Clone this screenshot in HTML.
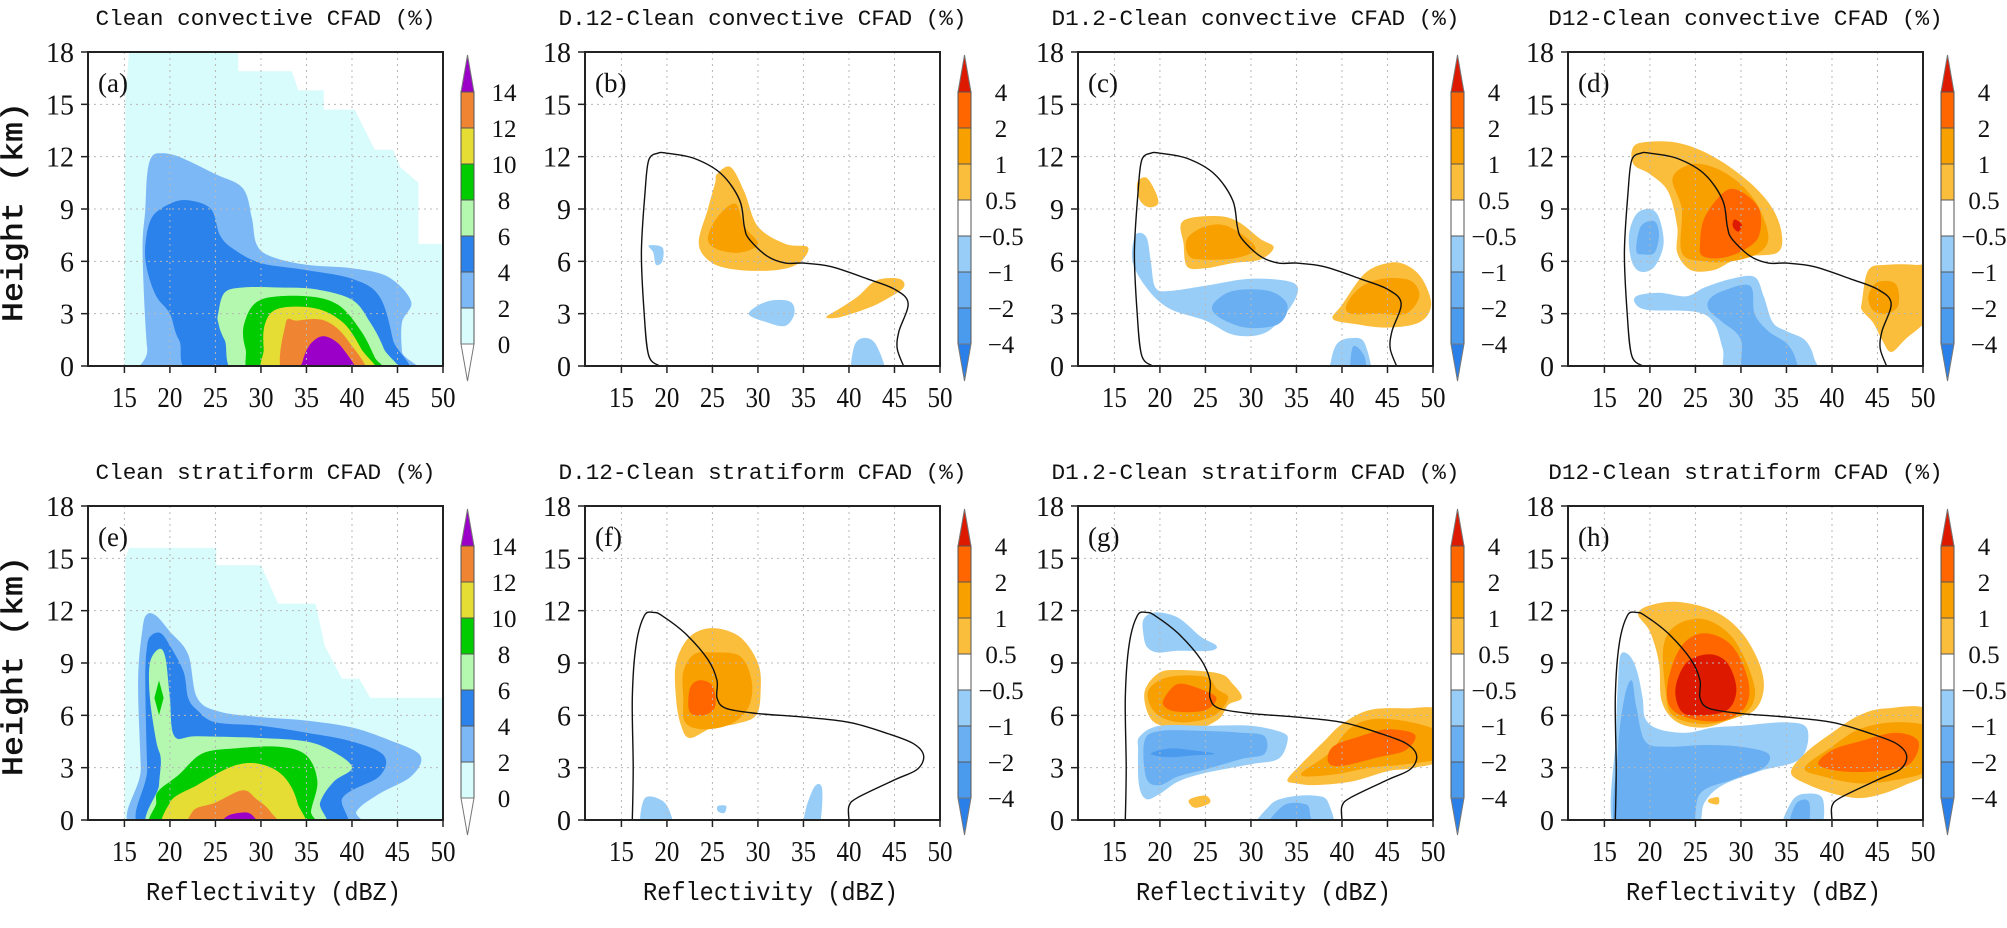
<!DOCTYPE html>
<html><head><meta charset="utf-8"><style>
html,body{margin:0;padding:0;background:#fff;}
svg{display:block;}
</style></head><body>
<svg id="fig" width="2007" height="928" viewBox="0 0 2007 928" xmlns="http://www.w3.org/2000/svg"></svg>
<script>
// ---------- axis data ----------
const xTicks = [15, 20, 25, 30, 35, 40, 45, 50];
const yTicks = [0, 3, 6, 9, 12, 15, 18];
const xDomain = [11, 50];
const yDomain = [0, 18];
const absLevels = ["14", "12", "10", "8", "6", "4", "2", "0"];
const diffLevels = ["4", "2", "1", "0.5", "-0.5", "-1", "-2", "-4"];
const absColors = ["#9b00c8", "#ef8532", "#e5dd33", "#00cc00", "#b4f7ae", "#2a82ea", "#7db8f6", "#d8fbfb", "#ffffff"];
const diffColors = ["#dd1a00", "#ff6600", "#f8a000", "#fbbd3c", "#ffffff", "#98cdf8", "#6aaff2", "#4a9aee", "#2a80e8"];

// ---------- outline (0 contour of clean CFAD) ----------
const convOutline = [[19.2,0],[18,0.6],[17.5,3],[17.2,6.5],[17.6,10],[18,11.8],[19,12.2],[20,12.2],[23,11.9],[26,11],[28,9.5],[28.5,8],[29,7.3],[31,6.3],[33,5.9],[35,5.9],[38,5.7],[42,5],[45,4.4],[46.5,3.6],[45.5,2],[45.3,1],[46,0]];
const stratOutline = [[16.2,0],[16.3,3],[16.2,7],[16.6,10],[17.5,11.7],[18.5,11.9],[19.5,11.7],[22,10.7],[24.5,9.2],[25.5,8],[25.5,7],[26.5,6.4],[30,6.1],[35,5.9],[40,5.6],[44,5],[47,4.4],[48.2,3.7],[47.5,2.9],[45,2.3],[41,1.3],[40,0.8],[40,0]];

// ---------- panel (a) ----------
const a_lv0 = [[15.5,18],[27.5,18],[27.5,16.9],[33.4,16.9],[34.1,15.8],[36.9,15.8],[36.9,14.7],[40.3,14.7],[42.5,12.4],[44.5,12.4],[45.3,11.4],[47.3,10.5],[47.3,7],[50,7],[50,0],[15,0],[15.1,15.3]];
const a_lv2 = [[19,12.2],[21,12],[25,11],[28,10.2],[29,8.5],[29.5,7],[31,6.3],[35,5.8],[40,5.6],[44,5.1],[46.5,3.7],[45.5,2.5],[45.5,0.8],[46,0],[18.3,0],[17.5,1],[17,6.5],[17.3,9],[17.5,11],[18,12]];
const a_lv4 = [[17.3,6.9],[18,8.5],[20,9.3],[22,9.5],[24.5,9],[25.5,7.5],[27,6.7],[30,5.9],[35,5.5],[40,5],[43,4],[44.5,1.5],[45,0],[24,0],[21,1.5],[20,3],[18.5,4],[17.5,5.5]];
const a_lv6 = [[25.3,3],[26,4.2],[28,4.5],[32,4.5],[36,4.4],[40,3.8],[42,2.5],[43.5,1],[44.5,0],[28.5,0],[26,1.5],[25.3,2.5]];
const a_lv8 = [[28.2,2.5],[30,3.8],[35,4],[38.5,3.5],[41,2],[42.5,0.5],[43.5,0],[30,0],[28.3,1]];
const a_lv10 = [[30.5,2.5],[32,3.3],[36,3.3],[39,2.5],[41,1],[42.5,0],[31,0],[30.3,1]];
const a_lv12 = [[32.7,2.4],[34,2.6],[37,2.6],[39.5,1.5],[41.5,0],[32.8,0]];
const a_lv14 = [[34.6,0.3],[35.5,1.3],[37,1.7],[39,1],[40.5,0],[34.5,0]];

// ---------- panel (e) ----------
const e_lv0 = [[15.5,15.6],[25.1,15.6],[25.1,14.6],[30,14.6],[31.9,12.4],[36,12.4],[37,10],[38.9,8.1],[40.8,8.1],[42,7],[50,7],[50,0],[15,0],[15.1,15]];
const e_lv2 = [[17.5,11.8],[18.5,11.7],[20,10.8],[22,9.5],[23,7],[25.5,6.2],[30,5.9],[35,5.7],[40,5.3],[44,4.6],[47.5,3.7],[46.5,2.5],[43,1.5],[40.5,0.5],[40,0],[17,0],[16.8,3],[16.5,8],[17,11]];
const e_lv4 = [[18,10.6],[19,10.7],[20,10],[21.5,8.5],[22,7],[23,6.3],[25,5.6],[30,5.4],[35,5],[40,4.5],[43.5,3.7],[43,2.5],[39,1.3],[38,0],[17.8,0],[17.5,3],[17.3,8],[17.5,10]];
const e_lv6 = [[17.8,9],[18.8,9.8],[19.5,9.3],[20,7],[20.5,4.8],[23,4.8],[30,4.7],[35,4.5],[38,3.9],[40,3],[38,2.2],[36.5,1],[36,0],[18.5,0],[18.8,2],[19,3.5],[18.5,4.5],[17.8,7]];
const e_lv8a = [[18.3,7],[18.8,8],[19.3,7],[18.8,6]];
const e_lv8 = [[18.8,1.7],[21,2.6],[23.5,3.8],[27,4.1],[32,4.2],[35,3.7],[36.2,2.2],[35.5,0.5],[35.5,0],[19,0],[18.5,1]];
const e_lv10 = [[20,1],[23,2],[27,3.1],[30,3.2],[32.5,2.5],[34,1],[34,0],[20.3,0]];
const e_lv12 = [[22.5,0.5],[25,1],[28,1.7],[29.5,1.2],[31,0.5],[32,0],[22.7,0]];
const e_lv14 = [[26,0.1],[27.5,0.4],[29,0.3],[30,0],[25.5,0]];

// ---------- panel (b) ----------
const b_p05a = [[25.5,11],[27,11.4],[28.5,10],[30,8],[33,7],[35.5,6.8],[34.5,5.9],[32,5.5],[28,5.5],[25,5.9],[23.5,7],[24.5,9],[25.3,10.5]];
const b_p1a = [[24.5,7.3],[25.5,8.5],[27.5,9.3],[28.5,8],[30,7],[28,6.5],[25.5,6.7]];
const b_p05b = [[37.5,2.8],[39,3.3],[41,4],[43,4.9],[45.5,5],[46,4.5],[44,3.8],[42,3.3],[39,2.8]];
const b_m05a = [[18,6.9],[19.5,6.8],[19.5,6],[18.8,5.8],[18.5,6.5]];
const b_m05b = [[29,3],[31,3.7],[33.5,3.7],[34,3],[33,2.3],[31,2.5]];
const b_m05c = [[40.5,1],[41.5,1.6],[43,1.2],[44,0],[40.5,0]];

// ---------- panel (c) ----------
const c_p05a = [[17.5,10.5],[18.5,10.8],[19.5,10],[19.8,9.3],[18.8,9.1],[17.8,9.5]];
const c_p05b = [[22.5,8.3],[26,8.6],[28.5,8.3],[31,7.3],[32.5,6.8],[31,6.1],[28,5.9],[25,5.6],[23,5.7],[22.6,7]];
const c_p1b = [[23,7.3],[25,8],[27.5,8],[30.5,6.8],[28.5,6.2],[25,6.1],[23.2,6.3]];
const c_p05c = [[39,2.7],[40,3.5],[42.5,5.3],[45,5.9],[47,5.8],[48.8,5],[49.8,3.5],[48.5,2.5],[45,2.2],[41.5,2.4]];
const c_p1c = [[40.5,3.5],[42,4.5],[44.5,5],[47.5,4.9],[48.5,4],[47,3],[44,3],[41,3]];
const c_m05a = [[17.3,7.5],[18.5,7.4],[19,6],[19.5,4.5],[21,4.3],[25,4.6],[30,5],[34.5,4.8],[35,4],[33,2.5],[31,1.8],[28,1.8],[25,2.6],[21,3.3],[18.5,4.5],[17,6]];
const c_m1a = [[25.8,3.5],[28,4.3],[32,4.3],[34,3.5],[33,2.4],[29.5,2.2],[26.5,2.8]];
const c_m05b = [[38.8,0.3],[39.5,1.3],[41,1.6],[42.5,1.3],[43,0],[38.8,0]];
const c_m1b = [[41,0],[41.2,1.1],[42.5,0.5],[42.5,0]];

// ---------- panel (d) ----------
const d_p05a = [[18,12.3],[19,12.8],[23,12.8],[27,12],[31,10.5],[33.5,9],[34.5,7.5],[34,6.5],[31,6.3],[29,6],[27,5.5],[24.5,5.5],[23,6.5],[23,8],[22,10],[20,11],[18.3,11.5]];
const d_p1a = [[22.5,10.8],[25,11.6],[28.5,11],[31.5,9.5],[33,7.5],[32,6.5],[29,6],[26,6],[23.5,6.5],[23.5,9]];
const d_p2a = [[25.5,7],[26,8.5],[28.2,10],[30,10],[32,9],[32,7.5],[30.5,6.7],[28,6.2],[25.8,6.3]];
const d_p4a = [[29.3,8.4],[30.1,8.1],[29.7,7.7],[29.1,8]];
const d_m05a = [[17.7,7.5],[18.5,8.7],[20,9],[21,8.5],[21.5,7],[20.5,5.7],[19,5.4],[18,6]];
const d_m1a = [[18.5,6.6],[19,8],[20.5,8.3],[21,7.5],[20.5,6.5],[19.3,6.4]];
const d_m05b = [[18.5,4],[21,4.2],[24,4],[26,4.5],[29,5],[31.5,5.1],[32.5,4],[33.5,2.5],[35,2],[37,1.5],[38,0.5],[38,0],[29,0],[28,1],[27,2.5],[25,3.1],[20,3.2],[18.5,3.5]];
const d_m1b = [[26.5,3.8],[28,4.3],[31,4.6],[31.5,3],[33,2],[35,1.3],[36,0.4],[36,0],[30.5,0],[30,1.5],[28,2.5],[26.5,3.2]];
const d_p05b = [[43.3,3.7],[44,5.5],[46,5.8],[49,5.8],[50,5.5],[50,3],[48,1.5],[46.5,0.8],[45.5,1.5],[44.5,2.5],[43.3,3.2]];
const d_p1b = [[44,4],[45,4.8],[47,4.7],[47.3,3.5],[46,3],[44.5,3.2]];

// ---------- panel (f) ----------
const f_p05a = [[21,9],[22.5,10.5],[25,11],[28,10.5],[30,9],[30.3,7.5],[29.8,6],[27.5,5.5],[25,5.3],[22.5,4.7],[21.5,5.5],[21,7]];
const f_p1a = [[21.8,8.5],[23,9.5],[25,9.6],[28,9.4],[29.3,8],[29,6.5],[27,5.5],[24,5.2],[22,5.6],[21.8,7]];
const f_p2a = [[22.5,7.5],[23.5,8],[25,7.7],[25.3,6.5],[24,6],[22.5,6.2]];
const f_m05a = [[17.5,1.2],[19.5,1.1],[20.5,0.2],[20.5,0],[17.3,0]];
const f_m05b = [[25.6,0.8],[26.5,0.8],[26.3,0.4],[25.6,0.5]];
const f_m05c = [[36.2,1.9],[37,1.9],[37,0.5],[36.5,0],[35,0],[35.2,0.5]];

// ---------- panel (g) ----------
const g_m05a = [[18.2,11.5],[19.5,11.9],[22,11.6],[24.5,10.5],[26.2,10],[25.5,9.7],[22,9.7],[19.8,9.6],[18.6,9.9],[18.2,10.6]];
const g_p05a = [[18.3,7.3],[19.8,8.4],[22,8.6],[26.5,8.4],[28,7.8],[29,7],[27.5,6.6],[26.5,5.8],[24,5.2],[21,5.3],[19,5.8]];
const g_p1a = [[18.8,7.5],[21,8.2],[25,8.2],[26.3,7.5],[27.5,7],[26,6],[23,5.6],[20.5,5.8],[19,6.5]];
const g_p2a = [[20.5,7],[22,7.8],[24.5,7.5],[26.2,7],[25,6.3],[22,6.2],[20.5,6.5]];
const g_m05b = [[17.8,4.8],[20,5.4],[25,5.4],[30,5.4],[33.5,5],[34,4.5],[33,3.5],[30,3.2],[25,2.7],[22,2.2],[20,1.5],[18.5,1.2],[17.7,2],[17.6,4]];
const g_m1b = [[18.3,4.5],[20,5.1],[25,5.1],[29,5],[31.5,4.8],[31.5,3.8],[29,3.5],[25,2.9],[22,2.5],[20,2],[18.5,2.4]];
const g_m2b = [[19,3.8],[21,3.6],[23.5,3.7],[26,3.8],[23.5,4],[21,4.1]];
const g_p05b = [[34,2.3],[35.5,3.2],[38,4.5],[40,5.5],[43,6.3],[47,6.4],[50,6.2],[50,3.6],[48,3],[45,2.8],[41,2.2],[37,2],[35,2.1]];
const g_p1b = [[35.5,2.6],[38.5,3.8],[41,5.3],[44,5.8],[48.5,5.5],[50,4.9],[50,3.6],[47,3.2],[43,3],[39,2.6]];
const g_p2b = [[38.5,3.3],[39,4.2],[42,4.8],[45,5.2],[48,4.9],[47,4],[44,3.6],[40,3.1]];
const g_p05c = [[23.3,1.2],[25,1.4],[25.5,1.0],[24,0.7],[23.3,0.9]];
const g_m05c = [[30.5,0],[32,0.8],[34,1.3],[37,1.4],[38.5,1],[38.5,0]];
const g_m1c = [[31.5,0],[33.5,0.8],[36,0.9],[36.5,0.3],[36.5,0]];

// ---------- panel (h) ----------
const h_p05a = [[18.7,11.8],[20,12.3],[23,12.5],[27,12],[30,10.8],[32,9],[32.5,7.5],[31.5,6.3],[29,5.8],[26,5.3],[23,5.6],[21.3,6.8],[21,9],[20,10.8]];
const h_p1a = [[21.5,10],[23,11.2],[26,11.5],[29,10.5],[31,8.5],[31.5,7],[30,6],[26,5.5],[22.5,6],[21.7,7.5]];
const h_p2a = [[22,8],[23.5,10],[26,10.7],[29,10],[30.8,8],[30.5,6.5],[28,5.7],[24.5,5.8],[22.2,6.5]];
const h_p4a = [[22.8,7.5],[24,9],[26.5,9.5],[28.5,9],[29.5,7.5],[28.5,6.3],[25.5,6],[23.5,6.2]];
const h_m05a = [[16.8,9.5],[17.8,9.4],[18.6,8.5],[19.2,7],[19.5,5.8],[21,5.2],[24,5],[27,5.3],[30,5.4],[35,5.6],[37.3,5.2],[36.5,3.5],[32,2.8],[28,2],[26,1],[24.5,0],[16.3,0],[16.3,5],[16.5,8]];
const h_m1a = [[17.2,7],[18,8],[18.5,6.5],[19.5,4.5],[22,4.2],[26,4.3],[30,4.2],[33,3.8],[32.5,3],[29,2.3],[25.5,1.5],[24,0],[16.5,0],[16.5,4]];
const h_m05b = [[34.5,0],[35.5,1],[37,1.5],[39,1.2],[38.5,0]];
const h_m1b = [[35.2,0],[36,0.9],[37.5,1],[37.2,0]];
const h_p05b = [[35.5,2.7],[37,3.8],[40,5],[43,6],[46,6.4],[50,6.2],[50,3],[48,2],[44,1.3],[41,1.4],[37.5,2]];
const h_p1b = [[37,3],[40,4.2],[43,5.2],[47,5.6],[50,5.2],[50,3],[47,2.3],[43,2.1],[39,2.5]];
const h_p2b = [[38.5,3.2],[40,4],[43,4.5],[47,5],[49.5,4.5],[48.5,3.2],[45,2.8],[41,2.8]];
const h_p05c = [[26.5,1.2],[27.5,1.3],[27.5,0.9],[26.5,1]];

// ---------- layout ----------
const NS = "http://www.w3.org/2000/svg";
const svg = document.getElementById("fig");
const colLeft = [88, 585, 1078, 1568];
const rowTop = [52, 506];
const PW = 355, PH = 314;

function mk(tag, attrs, parent) {
  const el = document.createElementNS(NS, tag);
  for (const k in attrs) el.setAttribute(k, attrs[k]);
  (parent || svg).appendChild(el);
  return el;
}
function xs(p, v) { return p.x0 + (v - xDomain[0]) / (xDomain[1] - xDomain[0]) * PW; }
function ys(p, v) { return p.y0 + PH - (v - yDomain[0]) / (yDomain[1] - yDomain[0]) * PH; }
function proj(p, pt) {
  let x = pt[0], y = pt[1];
  if (y <= 0) y = -0.8;
  if (x >= 50) x = 50.8;
  return [xs(p, x), ys(p, y)];
}
function smoothPath(p, pts, closed) {
  const P = pts.map(q => proj(p, q));
  const n = P.length;
  let d = "M" + P[0][0].toFixed(1) + "," + P[0][1].toFixed(1);
  const last = closed ? n : n - 1;
  for (let i = 0; i < last; i++) {
    const p0 = P[closed ? (i - 1 + n) % n : Math.max(i - 1, 0)];
    const p1 = P[i], p2 = P[(i + 1) % n];
    const p3 = P[closed ? (i + 2) % n : Math.min(i + 2, n - 1)];
    const c1 = [p1[0] + (p2[0] - p0[0]) / 6, p1[1] + (p2[1] - p0[1]) / 6];
    const c2 = [p2[0] - (p3[0] - p1[0]) / 6, p2[1] - (p3[1] - p1[1]) / 6];
    d += "C" + c1[0].toFixed(1) + "," + c1[1].toFixed(1) + " " + c2[0].toFixed(1) + "," + c2[1].toFixed(1) + " " + p2[0].toFixed(1) + "," + p2[1].toFixed(1);
  }
  return d + (closed ? "Z" : "");
}
function polyPath(p, pts) {
  return "M" + pts.map(q => proj(p, q).map(v => v.toFixed(1)).join(",")).join("L") + "Z";
}

const panels = [
  {id:"a", r:0, c:0, title:"Clean convective CFAD (%)", abs:true, outline:null,
   layers:[[a_lv0,7,true],[a_lv2,6],[a_lv4,5],[a_lv6,4],[a_lv8,3],[a_lv10,2],[a_lv12,1],[a_lv14,0]]},
  {id:"b", r:0, c:1, title:"D.12-Clean convective CFAD (%)", abs:false, outline:convOutline,
   layers:[[b_p05a,3],[b_p1a,2],[b_p05b,3],[b_m05a,5],[b_m05b,5],[b_m05c,5]]},
  {id:"c", r:0, c:2, title:"D1.2-Clean convective CFAD (%)", abs:false, outline:convOutline,
   layers:[[c_p05a,3],[c_p05b,3],[c_p1b,2],[c_p05c,3],[c_p1c,2],[c_m05a,5],[c_m1a,6],[c_m05b,5],[c_m1b,6]]},
  {id:"d", r:0, c:3, title:"D12-Clean convective CFAD (%)", abs:false, outline:convOutline,
   layers:[[d_p05a,3],[d_p1a,2],[d_p2a,1],[d_p4a,0],[d_m05a,5],[d_m1a,6],[d_m05b,5],[d_m1b,6],[d_p05b,3],[d_p1b,2]]},
  {id:"e", r:1, c:0, title:"Clean stratiform CFAD (%)", abs:true, outline:null,
   layers:[[e_lv0,7,true],[e_lv2,6],[e_lv4,5],[e_lv6,4],[e_lv8a,3,true],[e_lv8,3],[e_lv10,2],[e_lv12,1],[e_lv14,0]]},
  {id:"f", r:1, c:1, title:"D.12-Clean stratiform CFAD (%)", abs:false, outline:stratOutline,
   layers:[[f_p05a,3],[f_p1a,2],[f_p2a,1],[f_m05a,5],[f_m05b,5],[f_m05c,5]]},
  {id:"g", r:1, c:2, title:"D1.2-Clean stratiform CFAD (%)", abs:false, outline:stratOutline,
   layers:[[g_m05a,5],[g_p05a,3],[g_p1a,2],[g_p2a,1],[g_m05b,5],[g_m1b,6],[g_m2b,7],[g_p05b,3],[g_p1b,2],[g_p2b,1],[g_p05c,3],[g_m05c,5],[g_m1c,6]]},
  {id:"h", r:1, c:3, title:"D12-Clean stratiform CFAD (%)", abs:false, outline:stratOutline,
   layers:[[h_p05a,3],[h_p1a,2],[h_p2a,1],[h_p4a,0],[h_m05a,5],[h_m1a,6],[h_m05b,5],[h_m1b,6],[h_p05b,3],[h_p1b,2],[h_p2b,1],[h_p05c,3]]}
];

const defs = mk("defs", {});
panels.forEach(pd => {
  const p = {x0: colLeft[pd.c], y0: rowTop[pd.r]};
  const g = mk("g", {});
  
  
  const cp = mk("clipPath", {id: "clip-" + pd.id}, defs);
  mk("rect", {x: p.x0, y: p.y0, width: PW, height: PH}, cp);

  const t = mk("text", {x: p.x0 + PW / 2, y: p.y0 - 27, "text-anchor": "middle", "font-family": "Liberation Mono, monospace", "font-size": 22, fill: "#111", textLength: pd.title.length * 13.6, lengthAdjust: "spacingAndGlyphs"}, g);
  t.textContent = pd.title;
  
  

  const cg = mk("g", {"clip-path": "url(#clip-" + pd.id + ")"}, g);
  
  
  const cols = pd.abs ? absColors : diffColors;
  pd.layers.forEach(L => {
    const path = mk("path", {d: L[2] ? polyPath(p, L[0]) : smoothPath(p, L[0], true), fill: cols[L[1]], stroke: "none"}, cg);
    
    
  });

  xTicks.slice(0, -1).forEach(v => {
    const l = mk("line", {x1: xs(p, v), x2: xs(p, v), y1: p.y0, y2: p.y0 + PH, stroke: "#b8b8b8", "stroke-width": 1, "stroke-dasharray": "2,4"}, g);
    
    
  });
  yTicks.slice(1, -1).forEach(v => {
    const l = mk("line", {x1: p.x0, x2: p.x0 + PW, y1: ys(p, v), y2: ys(p, v), stroke: "#b8b8b8", "stroke-width": 1, "stroke-dasharray": "2,4"}, g);
    
    
  });

  if (pd.outline) {
    const o = mk("path", {d: smoothPath(p, pd.outline.map(q => [q[0], q[1] === 0 ? 0.001 : q[1]]), false), fill: "none", stroke: "#111", "stroke-width": 1.4, "clip-path": "url(#clip-" + pd.id + ")"}, g);
    
    
  }

  const fr = mk("rect", {x: p.x0, y: p.y0, width: PW, height: PH, fill: "none", stroke: "#222", "stroke-width": 2}, g);
  
  

  xTicks.forEach(v => {
    const x = xs(p, v);
    const tk = mk("line", {x1: x, x2: x, y1: p.y0 + PH, y2: p.y0 + PH + 7, stroke: "#222", "stroke-width": 1.5}, g);
    
    
    const tl = mk("text", {x: x, y: p.y0 + PH + 41, "text-anchor": "middle", "font-family": "Liberation Serif, serif", "font-size": 28, fill: "#111", textLength: 25, lengthAdjust: "spacingAndGlyphs"}, g);
    tl.textContent = v;
    
    
  });
  yTicks.forEach(v => {
    const y = ys(p, v);
    const tk = mk("line", {x1: p.x0 - 7, x2: p.x0, y1: y, y2: y, stroke: "#222", "stroke-width": 1.5}, g);
    
    
    const tl = mk("text", {x: p.x0 - 14, y: y + 10, "text-anchor": "end", "font-family": "Liberation Serif, serif", "font-size": 28, fill: "#111"}, g);
    tl.textContent = v;
    
    
  });

  const lt = mk("text", {x: p.x0 + 10, y: p.y0 + 40, "font-family": "Liberation Serif, serif", "font-size": 27, fill: "#111"}, g);
  lt.textContent = "(" + pd.id + ")";
  
  

  if (pd.c === 0) {
    const cy = p.y0 + PH / 2 + 3;
    const yt = mk("text", {x: 15, y: cy, transform: "rotate(-90 15 " + cy + ")", "text-anchor": "middle", "dominant-baseline": "central", "font-family": "Liberation Mono, monospace", "font-size": 30, fill: "#111", stroke: "#111", "stroke-width": 0.6, textLength: 220, lengthAdjust: "spacingAndGlyphs"}, g);
    yt.textContent = "Height (km)";
    
    
  }
  if (pd.r === 1) {
    const xt = mk("text", {x: p.x0 + PW / 2 + 8, y: p.y0 + PH + 80, "text-anchor": "middle", "font-family": "Liberation Mono, monospace", "font-size": 26, fill: "#111", textLength: 255, lengthAdjust: "spacingAndGlyphs"}, g);
    xt.textContent = "Reflectivity (dBZ)";
    
    
  }

  const cbx = p.x0 + PW + 18, cbw = 13, box = 36;
  const cbTop = p.y0 + 40;
  const cb = mk("g", {}, g);
  
  
  mk("path", {d: "M" + cbx + "," + cbTop + "L" + (cbx + cbw / 2) + "," + (cbTop - 37) + "L" + (cbx + cbw) + "," + cbTop + "Z", fill: cols[0], stroke: "#777", "stroke-width": 1}, cb);
  for (let i = 0; i < 7; i++) {
    mk("rect", {x: cbx, y: cbTop + i * box, width: cbw, height: box, fill: cols[i + 1], stroke: "#555", "stroke-width": 1}, cb);
  }
  const bot = cbTop + 7 * box;
  mk("path", {d: "M" + cbx + "," + bot + "L" + (cbx + cbw / 2) + "," + (bot + 37) + "L" + (cbx + cbw) + "," + bot + "Z", fill: cols[8], stroke: "#777", "stroke-width": 1}, cb);
  const labs = pd.abs ? absLevels : diffLevels;
  labs.forEach((s, i) => {
    const tl = mk("text", {x: cbx + cbw + 30, y: cbTop + i * box + 9, "text-anchor": "middle", "font-family": "Liberation Serif, serif", "font-size": 25, fill: "#111"}, cb);
    tl.textContent = s.replace("-", "\u2212");
    
    
  });
});
</script>
</body></html>
